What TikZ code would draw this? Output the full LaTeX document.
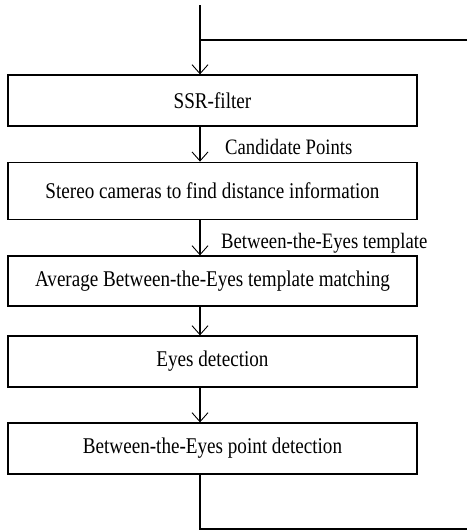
\documentclass[tikz,border=0pt]{standalone}
\usepackage{fontspec}
\setmainfont[FakeStretch=0.85]{Liberation Serif}
\usetikzlibrary{arrows.meta}

\tikzset{
  stage/.style={draw,line width=1.3pt,minimum width=409pt,inner sep=0pt,font=\fontsize{22.5}{25}\selectfont},
  flow/.style={line width=1.1pt},
  into/.style={flow,-{Straight Barb[length=9pt,width=16pt,line width=0.9pt]}},
  tag/.style={anchor=west,inner sep=0pt,font=\fontsize{22}{25}\selectfont}
}

\begin{document}
\begin{tikzpicture}[x=1pt,y=-1pt]
                      \useasboundingbox (0,0) rectangle (467,531);
                      \coordinate (in) at (200,5);
                      \coordinate (ltop) at (467,40);
                      \coordinate (lbot) at (467,529);
                      \node[stage,minimum height=51pt](ssr)at(212.5,100.5){SSR-filter};
                      \node[stage,minimum height=57pt](stereo)at(212.5,190.75){Stereo cameras to find distance information};
                      \node[stage,minimum height=50pt](avg)at(212.5,281){Average Between-the-Eyes template matching};
                      \node[stage,minimum height=51pt](eyes)at(212.5,361.5){Eyes detection};
                      \node[stage,minimum height=51pt](bte)at(212.5,448.5){Between-the-Eyes point detection};
                      \node[tag](cand)at(225,147){Candidate Points};
                      \node[tag](tmpl)at(221,243){Between-the-Eyes template};
                      \draw[flow](ltop)--(ltop-|in);
                      \draw[into](in)--(in|-ssr.north);
                      \draw[into](ssr.south-|in)--(stereo.north-|in);
                      \draw[into](stereo.south-|in)--(avg.north-|in);
                      \draw[into](avg.south-|in)--(eyes.north-|in);
                      \draw[into](eyes.south-|in)--(bte.north-|in);
                      \draw[flow](bte.south-|in)|-(lbot);
                  \end{tikzpicture}
\end{document}
